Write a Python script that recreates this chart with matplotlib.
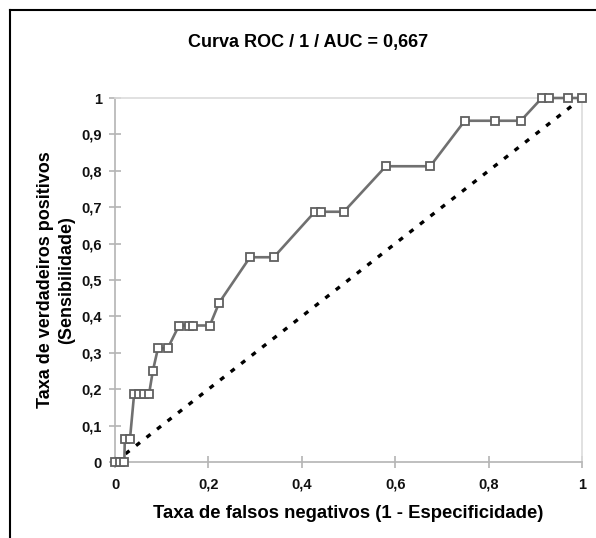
import matplotlib
matplotlib.use("Agg")
import matplotlib.pyplot as plt
from matplotlib.lines import Line2D

plt.rcParams['font.family'] = ['Liberation Sans', 'DejaVu Sans']

# ROC curve points (1 - specificity, sensitivity)
fpr = [0.0, 0.01, 0.02, 0.021, 0.032, 0.041, 0.051, 0.062, 0.073, 0.081,
       0.092, 0.113, 0.137, 0.158, 0.167, 0.203, 0.223, 0.289, 0.340,
       0.428, 0.441, 0.490, 0.580, 0.675, 0.749, 0.814, 0.869, 0.914,
       0.929, 0.970, 1.0]
tpr = [0.0, 0.0, 0.0, 0.0625, 0.0625, 0.1875, 0.1875, 0.1875, 0.1875, 0.25,
       0.3125, 0.3125, 0.375, 0.375, 0.375, 0.375, 0.4375, 0.5625, 0.5625,
       0.6875, 0.6875, 0.6875, 0.8125, 0.8125, 0.9375, 0.9375, 0.9375, 1.0,
       1.0, 1.0, 1.0]
diag = [0.0, 1.0]

xticks = [0, 0.2, 0.4, 0.6, 0.8, 1]
xticklabels = ['0', '0,2', '0,4', '0,6', '0,8', '1']
yticks = [0, 0.1, 0.2, 0.3, 0.4, 0.5, 0.6, 0.7, 0.8, 0.9, 1]
yticklabels = ['0', '0,1', '0,2', '0,3', '0,4', '0,5', '0,6', '0,7', '0,8', '0,9', '1']

title = 'Curva ROC / 1 / AUC = 0,667'
xlabel = 'Taxa de falsos negativos (1 - Especificidade)'
ylabel = 'Taxa de verdadeiros positivos\n(Sensibilidade)'

fig = plt.figure(figsize=(5.96, 5.38), dpi=100)
ax = fig.add_axes([115/596, 76/538, 467/596, 364/538])

ax.plot(diag, diag, color='black', lw=2.4, linestyle=(0, (1.5, 2.5)), zorder=2)
ax.plot(fpr, tpr, color='#707070', lw=1.9, marker='s', markersize=5.5,
        markerfacecolor='white', markeredgecolor='#606060', markeredgewidth=1.3,
        zorder=3, clip_on=False)

ax.set_xlim(0, 1)
ax.set_ylim(0, 1)
ax.set_xticks(xticks)
ax.set_xticklabels(xticklabels)
ax.set_yticks(yticks)
ax.set_yticklabels(yticklabels)

for s in ['left', 'bottom']:
    ax.spines[s].set_color('#b4b4b4')
    ax.spines[s].set_linewidth(1.2)
for s in ['top', 'right']:
    ax.spines[s].set_color('#dcdcdc')
    ax.spines[s].set_linewidth(1.2)

ax.tick_params(axis='both', direction='inout', length=9, width=1.2, color='#b4b4b4',
               labelsize=10.5, labelcolor='#111111')
ax.tick_params(axis='x', pad=7)
ax.tick_params(axis='y', pad=5)
for lab in ax.get_xticklabels() + ax.get_yticklabels():
    lab.set_fontweight('bold')

fig.text(308/596, 1 - 42/538, title, ha='center', va='center',
         fontsize=13, fontweight='bold')
fig.text(348/596, 1 - 514/538, xlabel, ha='center', va='center',
         fontsize=13.3, fontweight='bold')
fig.text(56/596, 1 - 280/538, ylabel, ha='center', va='center',
         fontsize=13, fontweight='bold', rotation=90, linespacing=1.25,
         multialignment='center')

# figure frame (left and top)
fig.add_artist(Line2D([10/596, 10/596], [0, 1 - 10/538], color='black', lw=1.5,
                      transform=fig.transFigure))
fig.add_artist(Line2D([10/596, 1], [1 - 10/538, 1 - 10/538], color='black', lw=1.5,
                      transform=fig.transFigure))

fig.savefig('out.png', dpi=100)
